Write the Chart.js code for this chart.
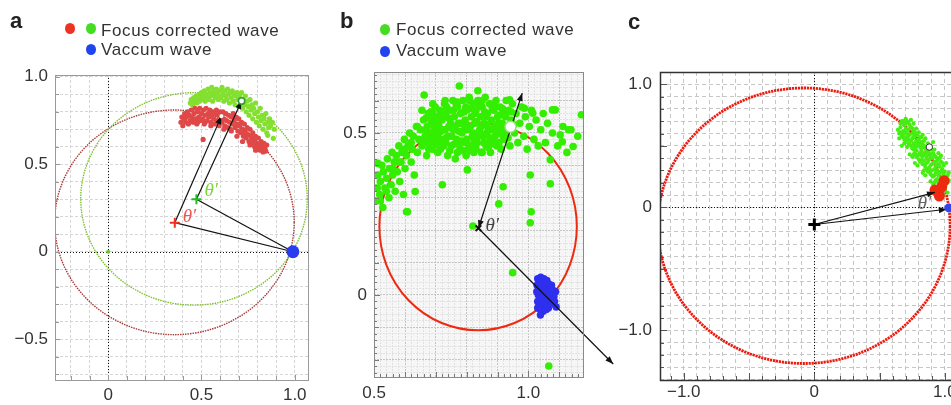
<!DOCTYPE html>
<html><head><meta charset="utf-8">
<script src="https://cdn.jsdelivr.net/npm/chart.js@4.4.0/dist/chart.umd.min.js"></script>
<style>
html,body{margin:0;padding:0;background:#fff;}
body{width:951px;height:405px;overflow:hidden;position:relative;font-family:"Liberation Sans",Arial,sans-serif;}
.panel{position:absolute;top:0;height:405px;}
.panel canvas{display:block}
.lbl{position:absolute;font-weight:bold;font-size:22px;line-height:24px;color:#222;}
.leg{position:absolute;font-size:17px;line-height:20px;letter-spacing:0.6px;color:#333;white-space:nowrap;}
.dot{position:absolute;width:10px;height:11px;border-radius:50%;}
</style></head><body>
<div class="panel" style="left:0;width:320px"><canvas id="ca"></canvas></div>
<div class="panel" style="left:320px;width:300px"><canvas id="cb"></canvas></div>
<div class="panel" style="left:600px;width:380px"><canvas id="cc"></canvas></div>

<div class="lbl" style="left:10px;top:9px">a</div>
<div class="dot" style="left:65px;top:23px;background:#ee3322"></div>
<div class="dot" style="left:86px;top:23px;background:#44dd22"></div>
<div class="leg" style="left:101px;top:21px">Focus corrected wave</div>
<div class="dot" style="left:86px;top:44px;background:#2244ee"></div>
<div class="leg" style="left:101px;top:40px">Vaccum wave</div>

<div class="lbl" style="left:340px;top:9px">b</div>
<div class="dot" style="left:380px;top:24px;background:#44dd22"></div>
<div class="leg" style="left:396px;top:20px">Focus corrected wave</div>
<div class="dot" style="left:380px;top:46px;background:#2244ee"></div>
<div class="leg" style="left:396px;top:41px">Vaccum wave</div>

<div class="lbl" style="left:628px;top:10px">c</div>

<script>
// ---------------- tick labels ----------------
const A_X_LABELS = [0, 0.5, 1.0];
const A_Y_LABELS = [-0.5, 0, 0.5, 1.0];
const B_X_LABELS = [0.5, 1.0];
const B_Y_LABELS = [0, 0.5];
const C_X_LABELS = [-1.0, 0, 1.0];
const C_Y_LABELS = [-1.0, 0, 1.0];

// ---------------- panel a data ----------------
const A_GREEN = [
[0.44,0.85],[0.445,0.87],[0.452,0.84],[0.458,0.88],[0.463,0.86],[0.47,0.89],[0.475,0.85],[0.48,0.87],[0.487,0.90],[0.49,0.86],[0.495,0.88],[0.50,0.91],
[0.505,0.87],[0.51,0.89],[0.515,0.92],[0.52,0.86],[0.525,0.90],[0.53,0.88],[0.535,0.93],[0.54,0.87],[0.545,0.91],[0.55,0.89],[0.555,0.94],[0.56,0.86],[0.565,0.92],[0.57,0.90],[0.575,0.88],[0.58,0.93],[0.585,0.91],[0.59,0.87],[0.595,0.89],[0.60,0.92],
[0.605,0.88],[0.61,0.94],[0.615,0.90],[0.62,0.86],[0.625,0.92],[0.63,0.89],[0.635,0.87],[0.64,0.93],[0.645,0.90],[0.65,0.85],[0.655,0.91],[0.66,0.88],[0.665,0.92],[0.67,0.86],[0.675,0.90],[0.68,0.84],[0.685,0.89],[0.69,0.91],[0.695,0.87],[0.70,0.83],
[0.705,0.89],[0.71,0.85],[0.715,0.91],[0.72,0.82],[0.725,0.87],[0.73,0.84],[0.735,0.89],[0.74,0.80],[0.745,0.86],[0.75,0.83],[0.755,0.78],[0.76,0.87],[0.765,0.81],[0.77,0.84],[0.775,0.76],[0.78,0.82],[0.785,0.79],[0.79,0.85],[0.795,0.74],[0.80,0.80],
[0.805,0.77],[0.81,0.72],[0.815,0.82],[0.82,0.75],[0.825,0.78],[0.83,0.70],[0.835,0.76],[0.84,0.73],[0.845,0.79],[0.85,0.68],[0.855,0.74],[0.86,0.71],[0.865,0.76],[0.87,0.72],[0.88,0.74],[0.89,0.70],[0.885,0.648],[0.855,0.665]
];
const A_RED = [
[0.39,0.74],[0.395,0.77],[0.40,0.72],[0.405,0.76],[0.41,0.79],[0.415,0.74],[0.42,0.77],[0.425,0.80],[0.43,0.73],[0.435,0.78],[0.44,0.75],[0.445,0.81],[0.45,0.77],[0.455,0.74],[0.46,0.79],[0.465,0.82],[0.47,0.76],[0.475,0.73],[0.48,0.80],[0.485,0.77],[0.49,0.82],[0.495,0.75],[0.50,0.79],
[0.505,0.76],[0.51,0.81],[0.515,0.73],[0.52,0.78],[0.525,0.82],[0.53,0.75],[0.535,0.79],[0.54,0.77],[0.545,0.81],[0.55,0.74],[0.555,0.78],[0.56,0.80],[0.565,0.76],[0.57,0.73],[0.575,0.79],[0.58,0.81],[0.585,0.75],[0.59,0.78],[0.595,0.72],[0.60,0.80],
[0.605,0.78],[0.61,0.74],[0.615,0.80],[0.62,0.76],[0.625,0.72],[0.63,0.79],[0.635,0.75],[0.64,0.71],[0.645,0.78],[0.65,0.74],[0.655,0.70],[0.66,0.77],[0.665,0.73],[0.67,0.79],[0.675,0.75],[0.68,0.71],[0.685,0.77],[0.69,0.73],[0.695,0.69],[0.70,0.76],
[0.705,0.72],[0.71,0.68],[0.715,0.74],[0.72,0.70],[0.725,0.66],[0.73,0.73],[0.735,0.69],[0.74,0.65],[0.745,0.71],[0.75,0.67],[0.755,0.63],[0.76,0.70],[0.765,0.66],[0.77,0.62],[0.775,0.68],[0.78,0.64],[0.785,0.60],[0.79,0.66],[0.795,0.62],[0.80,0.59],
[0.805,0.65],[0.81,0.61],[0.815,0.58],[0.82,0.63],[0.825,0.60],[0.83,0.57],[0.835,0.62],[0.84,0.59],[0.85,0.61],[0.845,0.575],[0.509,0.642],
[0.41,0.76],[0.43,0.78],[0.46,0.75],[0.48,0.74],[0.52,0.74],[0.55,0.72],[0.58,0.74],[0.62,0.70],[0.66,0.69],[0.69,0.66],[0.72,0.63],[0.76,0.61],[0.79,0.58],[0.73,0.67],[0.77,0.65]
];
const A_VACUUM = [[0.99, 0.0]];
const A_ORIGIN = [[0, 0]];
const A_RED_CENTER = [[0.357, 0.166]];
const A_GREEN_CENTER = [[0.473, 0.30]];
const A_RED_TIP = [[0.607, 0.775]];
const A_GREEN_TIP = [[0.715, 0.861]];
const A_RED_CIRCLE = [0.355, 0.168, 0.642];   // cx, cy, r
const A_GREEN_CIRCLE = [0.46, 0.302, 0.607];

// ---------------- panel b data ----------------
const B_GREEN = [
[0.505,0.29],[0.51,0.33],[0.512,0.37],[0.512,0.406],[0.518,0.31],[0.52,0.35],[0.525,0.40],[0.528,0.27],[0.53,0.38],[0.535,0.33],[0.54,0.36],[0.543,0.42],[0.548,0.30],[0.55,0.39],[0.555,0.34],[0.558,0.44],[0.56,0.37],[0.565,0.41],[0.568,0.32],[0.572,0.43],[0.575,0.38],[0.58,0.46],[0.583,0.35],[0.587,0.41],[0.59,0.44],[0.595,0.31],[0.598,0.48],[0.60,0.39],[0.605,0.43],[0.608,0.257],[0.61,0.46],[0.615,0.50],[0.62,0.41],[0.623,0.45],[0.627,0.49],[0.63,0.37],[0.633,0.319],[0.637,0.52],[0.64,0.44],[0.645,0.48],
[0.65,0.51],[0.655,0.46],[0.66,0.54],[0.662,0.617],[0.665,0.49],[0.67,0.43],[0.672,0.52],[0.675,0.56],[0.68,0.47],[0.683,0.50],[0.687,0.54],[0.69,0.45],[0.695,0.52],[0.698,0.58],[0.70,0.49],
[0.703,0.55],[0.706,0.44],[0.71,0.52],[0.713,0.57],[0.716,0.48],[0.72,0.54],[0.721,0.34],[0.725,0.46],[0.728,0.59],[0.73,0.51],[0.735,0.55],[0.738,0.43],[0.74,0.49],[0.745,0.57],[0.748,0.53],
[0.75,0.46],[0.755,0.60],[0.758,0.51],[0.76,0.55],[0.763,0.42],[0.767,0.48],[0.77,0.58],[0.773,0.53],[0.776,0.645],[0.778,0.45],[0.78,0.56],[0.785,0.50],[0.788,0.60],[0.79,0.47],[0.795,0.54],[0.798,0.43],
[0.80,0.57],[0.802,0.386],[0.805,0.51],[0.808,0.61],[0.81,0.46],[0.815,0.55],[0.818,0.49],[0.82,0.59],[0.823,0.44],[0.826,0.53],[0.83,0.57],[0.833,0.47],[0.836,0.60],[0.836,0.63],[0.842,0.51],[0.845,0.55],[0.848,0.44],
[0.85,0.58],[0.853,0.49],[0.857,0.53],[0.86,0.61],[0.863,0.46],[0.867,0.56],[0.87,0.51],[0.874,0.59],[0.877,0.44],[0.88,0.54],[0.884,0.48],[0.888,0.57],[0.89,0.52],[0.895,0.60],[0.898,0.46],
[0.90,0.55],[0.904,0.50],[0.908,0.58],[0.912,0.45],[0.915,0.53],[0.92,0.56],[0.924,0.48],[0.928,0.60],[0.932,0.52],[0.936,0.57],[0.939,0.602],[0.94,0.46],[0.944,0.54],[0.948,0.59],
[0.955,0.50],[0.96,0.56],[0.966,0.47],[0.972,0.53],[0.978,0.58],[0.987,0.576],[0.985,0.49],[0.99,0.55],[0.996,0.45],[1.003,0.52],[1.01,0.57],[1.014,0.561],[1.018,0.48],[1.025,0.54],[1.032,0.46],[1.04,0.51],[1.048,0.56],
[1.055,0.47],[1.062,0.53],[1.071,0.417],[1.078,0.50],[1.078,0.571],[1.087,0.571],[1.095,0.46],[1.103,0.494],[1.11,0.473],[1.112,0.52],[1.125,0.44],[1.13,0.51],[1.138,0.51],[1.145,0.458],[1.16,0.49],[1.172,0.556],
[0.662,0.47],[0.668,0.51],[0.677,0.45],[0.685,0.53],[0.692,0.48],[0.70,0.53],[0.708,0.50],[0.715,0.45],[0.723,0.51],[0.732,0.47],[0.742,0.52],[0.752,0.49],[0.762,0.52],[0.772,0.47],[0.782,0.53],[0.792,0.51],[0.80,0.48],[0.812,0.52],[0.822,0.50],[0.83,0.45],[0.838,0.49],[0.847,0.52],[0.855,0.47],[0.865,0.50],[0.872,0.47],[0.882,0.51],[0.892,0.49],[0.902,0.53],[0.91,0.51],[0.918,0.49],[0.926,0.55],[0.757,0.57],[0.797,0.58],[0.827,0.56],[0.862,0.55],[0.735,0.58],[0.712,0.55],[0.69,0.56],[0.80,0.44],[0.85,0.44],[0.77,0.44],
[0.668,0.545],[0.676,0.49],[0.684,0.565],[0.693,0.505],[0.701,0.465],[0.709,0.535],[0.717,0.505],[0.726,0.565],[0.734,0.485],[0.743,0.545],[0.751,0.515],[0.759,0.465],[0.766,0.585],[0.774,0.505],[0.783,0.475],[0.791,0.565],[0.799,0.525],[0.807,0.455],[0.816,0.575],[0.824,0.475],[0.833,0.535],[0.841,0.585],[0.849,0.495],[0.858,0.565],[0.866,0.525],[0.875,0.485],[0.883,0.575],[0.891,0.465],[0.899,0.515],[0.907,0.555],[0.916,0.575],[0.925,0.505],[0.934,0.485],[0.943,0.565],[0.952,0.525],[0.71,0.475],[0.745,0.445],[0.79,0.445],[0.83,0.465],[0.87,0.455],[0.905,0.47],[0.77,0.595],[0.81,0.60],[0.85,0.60],[0.89,0.585],[0.73,0.60],[0.69,0.59],[0.655,0.57],[0.64,0.52],[0.62,0.47],[0.60,0.45],[0.58,0.41],[0.56,0.39],[0.54,0.32],[0.52,0.29],
[0.918,0.334],[0.904,0.281],[1.009,0.257],[1.006,0.223],[1.071,0.343],[0.949,0.069],[1.066,-0.219],[0.82,0.213],[0.605,0.257],[1.006,0.37]
];
const B_BLUE = [
[1.03,0.05],[1.035,0.04],[1.04,0.055],[1.045,0.045],[1.05,0.05],[1.055,0.04],[1.06,0.045],[1.065,0.035],[1.028,0.03],[1.033,0.02],[1.038,0.035],[1.043,0.025],[1.048,0.03],[1.053,0.02],[1.058,0.03],[1.063,0.02],[1.068,0.025],[1.073,0.01],[1.078,0.0],[1.083,-0.005],[1.088,0.01],
[1.027,0.01],[1.032,0.0],[1.037,-0.01],[1.042,0.005],[1.047,-0.005],[1.052,0.01],[1.057,0.0],[1.062,-0.01],[1.067,0.005],[1.072,-0.015],[1.077,-0.02],[1.03,-0.02],[1.035,-0.03],[1.04,-0.025],[1.045,-0.035],[1.05,-0.02],[1.055,-0.03],[1.06,-0.025],[1.065,-0.04],[1.07,-0.03],
[1.03,-0.04],[1.038,-0.045],[1.048,-0.05],[1.058,-0.045],[1.039,-0.062],[1.09,-0.037],[1.08,0.015],[1.085,-0.02],[1.075,0.03]
];
const B_CENTER = [[0.838, 0.206]];
const B_TIP = [[0.942, 0.519]];
const B_UP_END = [0.98, 0.623];
const B_DOWN_END = [1.275, -0.213];
const B_CIRCLE = [0.837, 0.211, 0.32];

// ---------------- panel c data ----------------
const C_GREEN = [
[0.67,0.70],[0.70,0.72],[0.72,0.69],[0.74,0.71],[0.76,0.68],[0.69,0.67],
[0.64,0.63],[0.66,0.65],[0.68,0.62],[0.70,0.64],[0.72,0.63],[0.74,0.65],[0.76,0.62],[0.78,0.64],[0.80,0.61],[0.65,0.60],[0.71,0.60],
[0.65,0.56],[0.67,0.58],[0.69,0.55],[0.71,0.57],[0.73,0.59],[0.75,0.56],[0.77,0.58],[0.79,0.55],[0.81,0.57],[0.83,0.59],[0.85,0.56],[0.74,0.54],
[0.67,0.50],[0.69,0.52],[0.71,0.49],[0.73,0.51],[0.75,0.48],[0.77,0.50],[0.79,0.52],[0.81,0.49],[0.83,0.51],[0.85,0.48],[0.87,0.52],[0.89,0.50],[0.91,0.53],[0.78,0.46],
[0.73,0.43],[0.75,0.41],[0.77,0.44],[0.79,0.42],[0.81,0.44],[0.83,0.41],[0.85,0.43],[0.87,0.45],[0.89,0.42],[0.91,0.44],[0.93,0.41],[0.95,0.44],[0.97,0.42],[0.80,0.39],
[0.77,0.36],[0.79,0.34],[0.81,0.37],[0.83,0.35],[0.85,0.33],[0.87,0.37],[0.89,0.34],[0.91,0.36],[0.93,0.33],[0.95,0.35],[0.97,0.37],[0.99,0.34],[1.01,0.36],[0.86,0.31],
[0.83,0.28],[0.85,0.26],[0.87,0.29],[0.89,0.27],[0.91,0.25],[0.93,0.28],[0.95,0.26],[0.97,0.29],[0.99,0.27],[1.01,0.25],[1.03,0.28],[0.90,0.30],
[0.89,0.21],[0.91,0.19],[0.93,0.22],[0.95,0.20],[0.97,0.18],[0.99,0.21],[1.01,0.19],[1.03,0.22],
[0.97,0.12],[0.99,0.10],[1.00,0.14],[1.02,0.12],
[0.82,0.46],[0.84,0.38],[0.88,0.39],[0.76,0.52],[0.72,0.55],[0.86,0.40],[0.92,0.31],[0.68,0.57],[0.70,0.68],[0.75,0.60],[0.82,0.53],[0.88,0.47],[0.94,0.38],[0.98,0.31],[0.84,0.30],[0.92,0.47],
[0.66,0.68],[0.68,0.70],[0.71,0.70],[0.73,0.67],[0.75,0.64],[0.77,0.61],[0.79,0.59],[0.66,0.61],[0.68,0.59],[0.70,0.61],[0.72,0.58],[0.76,0.57],[0.78,0.54],[0.80,0.55],[0.82,0.57],[0.84,0.54],[0.70,0.54],[0.72,0.52],[0.74,0.50],[0.76,0.47],[0.78,0.49],[0.80,0.51],[0.82,0.48],[0.84,0.50],[0.86,0.46],[0.88,0.49],[0.90,0.47],
[0.76,0.43],[0.78,0.41],[0.80,0.43],[0.82,0.42],[0.84,0.44],[0.86,0.42],[0.88,0.44],[0.90,0.40],[0.92,0.42],[0.94,0.40],[0.96,0.40],[0.82,0.38],[0.84,0.35],[0.86,0.36],[0.88,0.32],[0.90,0.35],[0.92,0.37],[0.94,0.35],[0.96,0.33],[0.98,0.36],
[0.88,0.29],[0.90,0.26],[0.92,0.26],[0.94,0.30],[0.96,0.28],[0.98,0.25],[1.00,0.29],[1.02,0.26],[0.92,0.20],[0.94,0.23],[0.96,0.22],[0.98,0.19],[1.00,0.23],[1.02,0.20]
];
const C_RED = [[0.924,0.14],[0.95,0.125],[0.958,0.092],[0.976,0.167],[0.994,0.216]];
const C_BLUE = [[1.03, -0.005]];
const C_CENTER = [[0, -0.14]];
const C_TIP = [[0.881, 0.49]];
const C_RED_END = [0.924, 0.122];
const C_BLUE_END = [1.015, -0.016];
const C_CIRCLE = [-0.08, -0.15, 1.12];

// ---------------- helpers ----------------
const pts = a => a.map(p => ({x: p[0], y: p[1]}));
function fmt(v){ if (Math.abs(v) < 1e-9) return '0'; return (v < 0 ? '\u2212' : '') + Math.abs(v).toFixed(1); }
function labeler(labels){ return v => { for (const l of labels) if (Math.abs(l - v) < 1e-6) return fmt(l); return ''; }; }
function gridTicks(min, max, step){
  const out = []; const k0 = Math.ceil(min/step - 1e-9), k1 = Math.floor(max/step + 1e-9);
  for (let k = k0; k <= k1; k++) out.push({value: +(k*step).toFixed(6)});
  return out;
}
function isMult(v, m){ const q = v/m; return Math.abs(q - Math.round(q)) < 1e-6; }

function head(ctx, x, y, ang){
  const L = 8, W = 3;
  ctx.beginPath();
  ctx.moveTo(x, y);
  ctx.lineTo(x - L*Math.cos(ang) + W*Math.sin(ang), y - L*Math.sin(ang) - W*Math.cos(ang));
  ctx.lineTo(x - L*Math.cos(ang) - W*Math.sin(ang), y - L*Math.sin(ang) + W*Math.cos(ang));
  ctx.closePath(); ctx.fill();
}

function panelPlugin(P){
  let drawnArrows = false;
  const drawArrows = chart => {
    const {ctx, scales:{x, y}} = chart;
    ctx.save();
    ctx.strokeStyle = '#111'; ctx.fillStyle = '#111'; ctx.lineWidth = 1.2; ctx.setLineDash([]);
    for (const a of P.arrows){
      const x1 = x.getPixelForValue(a.from[0]), y1 = y.getPixelForValue(a.from[1]);
      const x2 = x.getPixelForValue(a.to[0]), y2 = y.getPixelForValue(a.to[1]);
      ctx.beginPath(); ctx.moveTo(x1, y1); ctx.lineTo(x2, y2); ctx.stroke();
      const ang = Math.atan2(y2 - y1, x2 - x1);
      if (a.end) head(ctx, x2, y2, ang);
      if (a.start) head(ctx, x1, y1, ang + Math.PI);
    }
    ctx.restore();
  };
  return {
    id: 'panel_' + P.name,
    beforeDraw(chart){
      if (!P.bg) return;
      const {ctx, chartArea:a} = chart;
      ctx.save(); ctx.fillStyle = P.bg; ctx.fillRect(a.left, a.top, a.right - a.left, a.bottom - a.top); ctx.restore();
    },
    beforeDatasetsDraw(chart){
      drawnArrows = false;
      const {ctx, chartArea:a, scales:{x, y}} = chart;
      ctx.save();
      ctx.beginPath(); ctx.rect(a.left, a.top, a.right - a.left, a.bottom - a.top); ctx.clip();
      if (P.zeroLines){
        ctx.strokeStyle = '#111'; ctx.lineWidth = 1; ctx.setLineDash([1, 2]);
        const x0 = Math.round(x.getPixelForValue(0)) + 0.5, y0 = Math.round(y.getPixelForValue(0)) + 0.5;
        ctx.beginPath(); ctx.moveTo(x0, a.top); ctx.lineTo(x0, a.bottom); ctx.stroke();
        ctx.beginPath(); ctx.moveTo(a.left, y0); ctx.lineTo(a.right, y0); ctx.stroke();
      }
      for (const c of P.circles){
        const cx = x.getPixelForValue(c.c[0]), cy = y.getPixelForValue(c.c[1]);
        const rx = Math.abs(x.getPixelForValue(c.c[0] + c.c[2]) - cx);
        const ry = Math.abs(y.getPixelForValue(c.c[1] + c.c[2]) - cy);
        ctx.strokeStyle = c.color; ctx.lineWidth = c.width; ctx.setLineDash(c.dash);
        ctx.beginPath(); ctx.ellipse(cx, cy, rx, ry, 0, 0, Math.PI*2); ctx.stroke();
      }
      ctx.restore();
    },
    beforeDatasetDraw(chart, args){
      if (args.index === P.arrowIdx && !drawnArrows){ drawArrows(chart); drawnArrows = true; }
    },
    afterDatasetsDraw(chart){
      if (!drawnArrows){ drawArrows(chart); drawnArrows = true; }
      const {ctx, scales:{x, y}} = chart;
      ctx.save();
      for (const t of P.texts){
        ctx.font = 'italic 19px "Liberation Serif", "DejaVu Serif", serif';
        ctx.fillStyle = t.color; ctx.textAlign = 'left'; ctx.textBaseline = 'middle';
        ctx.fillText('\u03B8\u2032', x.getPixelForValue(t.at[0]) + t.dx, y.getPixelForValue(t.at[1]) + t.dy);
      }
      ctx.restore();
    },
    afterDraw(chart){
      const {ctx, chartArea:a, scales:{x, y}} = chart;
      ctx.save();
      ctx.strokeStyle = P.tickColor; ctx.lineWidth = 1; ctx.setLineDash([]);
      const tk = (v, isX) => {
        const major = isMult(v, 0.1);
        const big = isMult(v, 0.5);
        let len = P.tickMinor;
        if (major) len = P.tickMajor;
        if (big) len = P.tickBig;
        if (!major && !P.fineTicks) return;
        if (isX){
          const px = Math.round(x.getPixelForValue(v)) + 0.5;
          ctx.beginPath(); ctx.moveTo(px, a.bottom); ctx.lineTo(px, a.bottom - len); ctx.stroke();
        } else {
          const py = Math.round(y.getPixelForValue(v)) + 0.5;
          ctx.beginPath(); ctx.moveTo(a.left, py); ctx.lineTo(a.left + len, py); ctx.stroke();
        }
      };
      x.ticks.forEach(t => tk(t.value, true));
      y.ticks.forEach(t => tk(t.value, false));
      ctx.strokeStyle = P.frameColor; ctx.lineWidth = P.frameWidth;
      ctx.strokeRect(Math.round(a.left) + 0.5, Math.round(a.top) + 0.5, Math.round(a.right - a.left), Math.round(a.bottom - a.top));
      ctx.restore();
    }
  };
}

function build(id, P){
  const font = {family: '"Liberation Sans", Arial, sans-serif', size: 17};
  return new Chart(document.getElementById(id), {
    type: 'scatter',
    data: {datasets: P.datasets},
    options: {
      responsive: true, maintainAspectRatio: false, animation: false, devicePixelRatio: 1, events: [],
      layout: {padding: {top: P.top, right: P.right, left: 0, bottom: 0}},
      plugins: {legend: {display: false}, tooltip: {enabled: false}},
      scales: {
        x: {
          type: 'linear', position: 'bottom', min: P.xr[0], max: P.xr[1],
          afterFit: s => { s.height = P.xh; },
          afterBuildTicks: s => { s.ticks = gridTicks(P.xr[0], P.xr[1], P.step); },
          grid: {color: c => (c.tick && isMult(c.tick.value, 0.1)) ? P.gridMajor : P.gridMinor, lineWidth: 1, drawTicks: false},
          border: {display: false, dash: P.dash},
          ticks: {padding: P.xpad, autoSkip: false, maxRotation: 0, minRotation: 0, color: '#333', font, callback: labeler(P.xLabels)}
        },
        y: {
          type: 'linear', position: 'left', min: P.yr[0], max: P.yr[1],
          afterFit: s => { s.width = P.yw; },
          afterBuildTicks: s => { s.ticks = gridTicks(P.yr[0], P.yr[1], P.step); },
          grid: {color: c => (c.tick && isMult(c.tick.value, 0.1)) ? P.gridMajor : P.gridMinor, lineWidth: 1, drawTicks: false},
          border: {display: false, dash: P.dash},
          ticks: {padding: P.ypad, autoSkip: false, color: '#333', font, callback: labeler(P.yLabels)}
        }
      }
    },
    plugins: [panelPlugin(P)]
  });
}

const dot = (label, data, color, r, extra) => Object.assign({label, data: pts(data), backgroundColor: color, borderWidth: 0, pointRadius: r, pointHoverRadius: r}, extra || {});

// ---------------- panel a ----------------
build('ca', {
  name: 'a', top: 75, right: 12, xh: 25, yw: 55, xpad: 5, ypad: 7,
  xr: [-0.285, 1.071], yr: [-0.733, 1.01], step: 0.1,
  xLabels: A_X_LABELS, yLabels: A_Y_LABELS,
  gridMajor: '#d6d6d6', gridMinor: '#d6d6d6', dash: [3, 2],
  tickColor: '#999', tickMinor: 4, tickMajor: 4, tickBig: 5, fineTicks: false,
  frameColor: '#9a9a9a', frameWidth: 1, zeroLines: true,
  circles: [
    {c: A_RED_CIRCLE, color: '#a83a36', width: 1.4, dash: [1.5, 1]},
    {c: A_GREEN_CIRCLE, color: '#7cc22a', width: 1.4, dash: [1.5, 1]}
  ],
  arrowIdx: 5,
  arrows: [
    {from: A_RED_CENTER[0], to: A_RED_TIP[0], end: true},
    {from: A_GREEN_CENTER[0], to: A_GREEN_TIP[0], end: true},
    {from: A_RED_CENTER[0], to: A_VACUUM[0]},
    {from: A_GREEN_CENTER[0], to: A_VACUUM[0]}
  ],
  texts: [
    {at: A_GREEN_CENTER[0], dx: 8, dy: -8, color: '#7ed43a'},
    {at: A_RED_CENTER[0], dx: 8, dy: -6, color: '#ee5555'}
  ],
  datasets: [
    dot('Vaccum wave', A_VACUUM, '#2a3cf0', 6.5),
    dot('green tip', A_GREEN_TIP, '#ffffff', 3.2, {borderColor: '#2f9a2f', borderWidth: 1.5}),
    dot('red tip', A_RED_TIP, '#ffffff', 2.4, {borderColor: '#b03030', borderWidth: 0.6}),
    dot('red centre', A_RED_CENTER, '#ee3322', 5, {pointStyle: 'cross', borderColor: '#ee3322', borderWidth: 2}),
    dot('green centre', A_GREEN_CENTER, '#22bb22', 5, {pointStyle: 'cross', borderColor: '#22bb22', borderWidth: 2}),
    dot('origin', A_ORIGIN, '#66cc33', 2),
    dot('Focus corrected wave (red)', A_RED, '#e04848', 2.6),
    dot('Focus corrected wave (green)', A_GREEN, '#84e030', 2.6)
  ]
});

// ---------------- panel b ----------------
build('cb', {
  name: 'b', top: 72, right: 37, xh: 28, yw: 54, xpad: 6, ypad: 7,
  xr: [0.4995, 1.177], yr: [-0.253, 0.688], step: 0.02,
  xLabels: B_X_LABELS, yLabels: B_Y_LABELS,
  gridMajor: '#c4c4c4', gridMinor: '#e2e2e2', dash: [2, 1],
  tickColor: '#777', tickMinor: 3, tickMajor: 5, tickBig: 6, fineTicks: true,
  frameColor: '#8a8a8a', frameWidth: 1, zeroLines: false, bg: '#f6f6f6',
  circles: [{c: B_CIRCLE, color: '#ee2a10', width: 2, dash: []}],
  arrowIdx: 1,
  arrows: [
    {from: B_CENTER[0], to: B_UP_END, end: true, start: true},
    {from: B_CENTER[0], to: B_DOWN_END, end: true}
  ],
  texts: [{at: B_CENTER[0], dx: 7, dy: -2, color: '#444'}],
  datasets: [
    dot('tip', B_TIP, '#ffffff', 5.5, {borderColor: '#9ae07a', borderWidth: 1.5}),
    dot('centre', B_CENTER, '#111', 4, {pointStyle: 'crossRot', borderColor: '#111', borderWidth: 2}),
    dot('Vaccum wave', B_BLUE, '#2f2fee', 3.7),
    dot('Focus corrected wave', B_GREEN, '#33ee00', 3.8)
  ]
});

// ---------------- panel c ----------------
build('cc', {
  name: 'c', top: 72, right: 9, xh: 25, yw: 60, xpad: 2, ypad: 8,
  xr: [-1.182, 1.2], yr: [-1.404, 1.10], step: 0.1,
  xLabels: C_X_LABELS, yLabels: C_Y_LABELS,
  gridMajor: '#c6c6c6', gridMinor: '#c6c6c6', dash: [4, 3],
  tickColor: '#555', tickMinor: 4, tickMajor: 4, tickBig: 7, fineTicks: false,
  frameColor: '#333', frameWidth: 1.5, zeroLines: true,
  circles: [{c: C_CIRCLE, color: '#ee1a0e', width: 2.8, dash: [2.2, 0.8]}],
  arrowIdx: 2,
  arrows: [
    {from: C_CENTER[0], to: C_RED_END, end: true},
    {from: C_CENTER[0], to: C_BLUE_END, end: true}
  ],
  texts: [{at: C_BLUE_END, dx: -29, dy: -5, color: '#666'}],
  datasets: [
    dot('Vaccum wave', C_BLUE, '#3344ee', 4.5),
    dot('tip', C_TIP, '#ffffff', 3.2, {borderColor: '#333', borderWidth: 1}),
    dot('centre', C_CENTER, '#000', 6, {pointStyle: 'cross', borderColor: '#000', borderWidth: 3}),
    dot('red', C_RED, '#ee2a10', 5.5),
    dot('Focus corrected wave', C_GREEN, '#44ee11', 2.1)
  ]
});
</script>
</body></html>
